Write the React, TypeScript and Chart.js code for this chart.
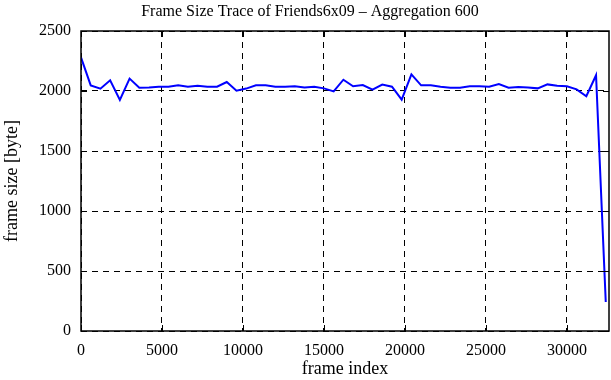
import { useEffect, useRef } from "react";
import { Chart, registerables } from "chart.js";

Chart.register(...registerables);

const FONT = '"Liberation Serif", "DejaVu Serif", serif';

const chartTitle = "Frame Size Trace of Friends6x09 \u2013 Aggregation 600";
const xTitle = "frame index";
const yTitle = "frame size [byte]";

const frameIndex = [
  0, 600, 1200, 1800, 2400, 3000, 3600, 4200, 4800, 5400,
  6000, 6600, 7200, 7800, 8400, 9000, 9600, 10200, 10800, 11400,
  12000, 12600, 13200, 13800, 14400, 15000, 15600, 16200, 16800, 17400,
  18000, 18600, 19200, 19800, 20400, 21000, 21600, 22200, 22800, 23400,
  24000, 24600, 25200, 25800, 26400, 27000, 27600, 28200, 28800, 29400,
  30000, 30600, 31200, 31800, 32400,
];

const frameSize = [
  2280, 2047, 2019, 2089, 1925, 2103, 2028, 2030, 2036, 2036,
  2047, 2036, 2044, 2036, 2036, 2075, 2003, 2020, 2047, 2047,
  2036, 2036, 2039, 2030, 2036, 2022, 1997, 2094, 2039, 2050,
  2011, 2053, 2036, 1928, 2139, 2047, 2047, 2036, 2028, 2028,
  2039, 2039, 2036, 2058, 2028, 2033, 2030, 2022, 2055, 2044,
  2039, 2014, 1956, 2131, 242,
];

const xTicks = [0, 5000, 10000, 15000, 20000, 25000, 30000];
const yTicks = [0, 500, 1000, 1500, 2000, 2500];
const xMax = 32600;

export default function App() {
  const ref = useRef<HTMLCanvasElement>(null);

  useEffect(() => {
    const canvas = ref.current;
    if (!canvas) return;

    const framePlugin = {
      id: "gnuFrame",
      afterDatasetsDraw(chart: any) {
        const { ctx, chartArea } = chart;
        const { left, right, top, bottom } = chartArea;
        const xs = chart.scales.x;
        const ys = chart.scales.y;
        ctx.save();
        ctx.strokeStyle = "#000";
        ctx.lineWidth = 1;
        ctx.setLineDash([]);
        ctx.beginPath();
        for (const v of xTicks) {
          const px = Math.round(xs.getPixelForValue(v)) + 0.5;
          ctx.moveTo(px, bottom);
          ctx.lineTo(px, bottom - 6);
          ctx.moveTo(px, top);
          ctx.lineTo(px, top + 6);
        }
        for (const v of yTicks) {
          const py = Math.round(ys.getPixelForValue(v)) + 0.5;
          ctx.moveTo(left, py);
          ctx.lineTo(left + 6, py);
          ctx.moveTo(right, py);
          ctx.lineTo(right - 6, py);
        }
        ctx.stroke();
        ctx.lineWidth = 1.5;
        ctx.strokeRect(left, top, right - left, bottom - top);
        ctx.fillStyle = "#000";
        ctx.font = `16px ${FONT}`;
        ctx.textAlign = "center";
        ctx.textBaseline = "middle";
        ctx.fillText(chartTitle, 310, 12);
        ctx.restore();
      },
    };

    const chart = new Chart(canvas, {
      type: "line",
      data: {
        datasets: [
          {
            data: frameIndex.map((x, i) => ({ x, y: frameSize[i] })),
            borderColor: "#0000ff",
            borderWidth: 2,
            pointRadius: 0,
            tension: 0,
            fill: false,
          },
        ],
      },
      options: {
        animation: false,
        responsive: false,
        maintainAspectRatio: false,
        layout: { padding: { top: 31, right: 2, left: 0, bottom: 0 } },
        plugins: {
          legend: { display: false },
          tooltip: { enabled: false },
          title: { display: false },
        },
        scales: {
          x: {
            type: "linear",
            min: 0,
            max: xMax,
            afterBuildTicks: (s: any) => {
              s.ticks = xTicks.map((v) => ({ value: v }));
            },
            afterFit: (s: any) => {
              s.height = 49;
            },
            grid: { color: "#000", lineWidth: 1, drawTicks: false },
            border: { display: false, dash: [6, 5] },
            ticks: {
              color: "#000",
              font: { family: FONT, size: 16 },
              padding: 10,
              maxRotation: 0,
              autoSkip: false,
              callback: (v: any) => String(v),
            },
            title: {
              display: true,
              text: xTitle,
              color: "#000",
              font: { family: FONT, size: 18 },
              padding: { top: 0, bottom: 0 },
            },
          },
          y: {
            type: "linear",
            min: 0,
            max: 2500,
            afterBuildTicks: (s: any) => {
              s.ticks = yTicks.map((v) => ({ value: v }));
            },
            afterFit: (s: any) => {
              s.width = 81;
            },
            grid: { color: "#000", lineWidth: 1, drawTicks: false },
            border: { display: false, dash: [6, 5] },
            ticks: {
              color: "#000",
              font: { family: FONT, size: 16 },
              padding: 10,
              autoSkip: false,
              callback: (v: any) => String(v),
            },
            title: {
              display: true,
              text: yTitle,
              color: "#000",
              font: { family: FONT, size: 18 },
              padding: { top: 1, bottom: 0 },
            },
          },
        },
      },
      plugins: [framePlugin],
    });

    return () => chart.destroy();
  }, []);

  return (
    <div
      style={{
        position: "fixed",
        left: 0,
        top: 0,
        width: 611,
        height: 380,
        background: "#fff",
      }}
    >
      <canvas ref={ref} width={611} height={380} />
    </div>
  );
}
